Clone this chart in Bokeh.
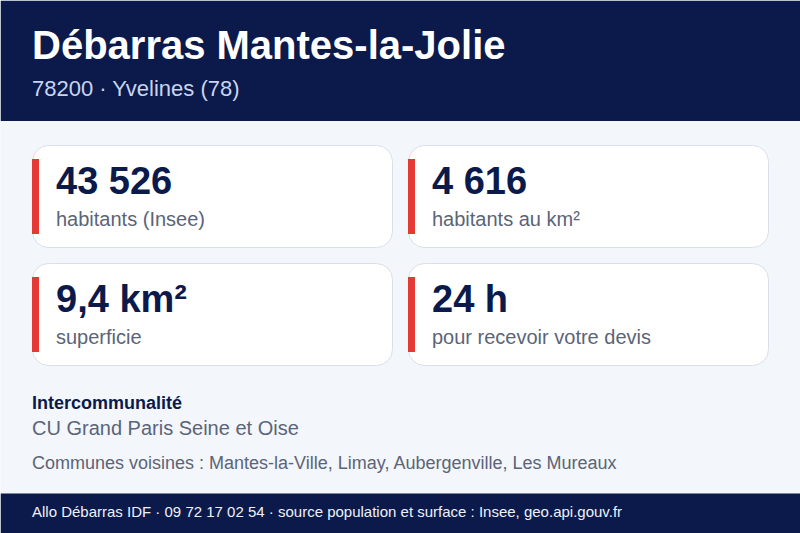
from bokeh.core.properties import value
from bokeh.embed import file_html
from bokeh.plotting import figure
from bokeh.resources import INLINE

TITLE = "Débarras Mantes-la-Jolie"
SUBTITLE = "78200 · Yvelines (78)"
STAT_VALUES = ["43 526", "4 616", "9,4 km²", "24 h"]
STAT_LABELS = ["habitants (Insee)", "habitants au km²", "superficie", "pour recevoir votre devis"]
INTERCO_HEAD = "Intercommunalité"
INTERCO_NAME = "CU Grand Paris Seine et Oise"
NEIGHBOURS = "Communes voisines : Mantes-la-Ville, Limay, Aubergenville, Les Mureaux"
FOOTER = "Allo Débarras IDF · 09 72 17 02 54 · source population et surface : Insee, geo.api.gouv.fr"

NAVY = "#0b1a4b"
RED = "#e53935"
PAGE = "#f3f6fb"
BORDER = "#d9dee8"
GREY = "#5b6478"
FONT = value("Liberation Sans")

card_left = [32, 408, 32, 408]
card_top = [145, 145, 263, 263]
CARD_W = 360
CARD_H = 102


def label(p, x, y, text, size, color, style="normal"):
    # bokeh sets alphabetic text a bit low, pull it back by font size
    p.text([x - 0.5], [y - 0.38 * size], text=[text], text_font=FONT, text_font_size=f"{size}px",
           text_color=color, text_font_style=style,
           text_baseline="alphabetic", text_align="left")


p = figure(width=800, height=533, x_range=(0, 800), y_range=(533, 0),
           output_backend="svg", toolbar_location=None, min_border=0,
           background_fill_color=PAGE,
           border_fill_color=PAGE, outline_line_color=None)
p.axis.visible = False
p.grid.visible = False

p.quad(left=[0], right=[800], top=[0], bottom=[120.5], color=NAVY, line_color=None)
p.quad(left=[0], right=[800], top=[493], bottom=[533], color=NAVY, line_color=None)

p.quad(left=card_left, right=[x + CARD_W for x in card_left],
       top=card_top, bottom=[y + CARD_H for y in card_top],
       fill_color="white", line_color=BORDER, line_width=1, border_radius=16)
p.quad(left=[x - 0.5 for x in card_left], right=[x + 6.5 for x in card_left],
       top=[y + 13.5 for y in card_top], bottom=[y + 88.5 for y in card_top],
       color=RED, line_color=None)

label(p, 32, 60, TITLE, 40, "white", "bold")
label(p, 32, 96, SUBTITLE, 22, "#c9d5ee")

for x, y, val, lab in zip(card_left, card_top, STAT_VALUES, STAT_LABELS):
    label(p, x + 24, y + 50, val, 38, NAVY, "bold")
    label(p, x + 24, y + 81.5, lab, 20, GREY)

label(p, 32, 409, INTERCO_HEAD, 18, NAVY, "bold")
label(p, 32, 435, INTERCO_NAME, 20, GREY)
label(p, 32, 469, NEIGHBOURS, 18, GREY)
label(p, 32, 517, FOOTER, 15, "#eef1f9")

open("out.html", "w").write(file_html(p, INLINE))
